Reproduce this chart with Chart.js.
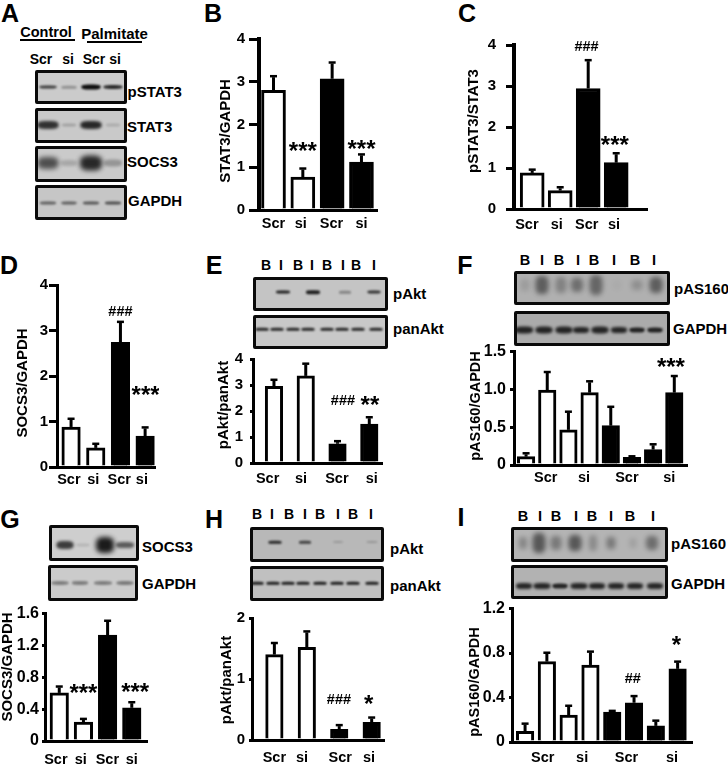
<!DOCTYPE html>
<html><head><meta charset="utf-8">
<script src="https://cdn.jsdelivr.net/npm/chart.js@4"></script>
<style>
html,body{margin:0;padding:0;background:#fff;width:728px;height:766px;overflow:hidden}
#fig{position:relative;width:728px;height:766px;font-family:"Liberation Sans",Arial,sans-serif;color:#000;font-weight:bold}
#fig canvas{position:absolute}
.t{position:absolute;white-space:nowrap;line-height:1;transform:translate(-50%,-50%)}
.l{transform:translate(0,-50%)}
.blot{position:absolute;box-sizing:border-box;border:3px solid #0a0a0a;border-radius:2px;overflow:hidden}
.band{position:absolute;border-radius:35%;background:#0c0c0c;transform:translate(-50%,-50%)}
.rule{position:absolute;height:2px;background:#000}
</style></head><body><div id="fig"></div>
<script>
// ---------- data ----------
const catsB=['Scr','si','Scr','si'];
const valsB=[2.8,0.77,3.07,1.12];
const errsB=[0.33,0.2,0.38,0.18];
const yTicks4=['0','1','2','3','4'];
const catsC=['Scr','si','Scr','si'];
const valsC=[0.88,0.45,2.94,1.13];
const errsC=[0.08,0.08,0.69,0.23];
const catsD=['Scr','si','Scr','si'];
const valsD=[0.88,0.42,2.74,0.68];
const errsD=[0.18,0.09,0.45,0.19];
const catsE=['Scr','si','Scr','si'];
const valsE=[2.95,3.35,0.74,1.5];
const errsE=[0.25,0.47,0.1,0.26];
const catsF=['Scr','si','Scr','si'];
const valsF=[0.11,0.99,0.465,0.957,0.52,0.1,0.204,0.957];
const errsF=[0.045,0.24,0.24,0.15,0.25,0.015,0.07,0.22];
const yTicksF=['0','0.5','1.0','1.5'];
const catsG=['Scr','si','Scr','si'];
const valsG=[0.604,0.2375,1.33,0.417];
const errsG=[0.08,0.04,0.18,0.07];
const yTicksG=['0','0.4','0.8','1.2','1.6'];
const catsH=['Scr','si','Scr','si'];
const valsH=[1.4,1.52,0.174,0.288];
const errsH=[0.19,0.26,0.07,0.08];
const yTicksH=['0','1','2'];
const catsI=['Scr','si','Scr','si'];
const valsI=[0.095,0.723,0.243,0.693,0.27,0.353,0.145,0.658];
const errsI=[0.07,0.08,0.083,0.12,0.01,0.06,0.047,0.065];
const yTicksI=['0','0.4','0.8','1.2'];
// ---------- layout ----------
const fig=document.getElementById('fig');
function text(s,x,y,size,left){const d=document.createElement('div');d.className='t'+(left?' l':'');d.textContent=s;
  d.style.left=x+'px';d.style.top=y+'px';d.style.fontSize=size+'px';fig.appendChild(d);}
function rule(x1,x2,y){const d=document.createElement('div');d.className='rule';d.style.left=x1+'px';d.style.width=(x2-x1)+'px';d.style.top=y+'px';fig.appendChild(d);}
function blot(x1,y1,x2,y2,bg,bands){const d=document.createElement('div');d.className='blot';
  d.style.cssText+=`left:${x1}px;top:${y1}px;width:${x2-x1}px;height:${y2-y1}px;background:${bg}`;
  bands.forEach(([cx,cy,w,h,a])=>{const b=document.createElement('div');b.className='band';
    const blur=h>9?2.4:h>5?1.6:0.9;
    b.style.cssText+=`left:${cx-x1-3}px;top:${cy-y1-3}px;width:${w}px;height:${h}px;opacity:${a};filter:blur(${blur}px)`;d.appendChild(b);});
  fig.appendChild(d);}
const pick=(v,i)=>Array.isArray(v)?v[i]:v;
function row(xs,y,w,h,al){return xs.map((x,i)=>[x,y,pick(w,i),pick(h,i),pick(al,i)]);}

[['A',10,13],['B',213,13],['C',467,13],['D',9,265],['E',214,265],['F',465,265],['G',10,519],['H',214,519],['I',461,517]]
  .forEach(([s,x,y])=>text(s,x,y,25));

// panel A
text('Control',46,32,14.5);rule(20,75,39);
text('Palmitate',114.5,33,15);rule(87,142,41);
[['Scr',41],['si',68],['Scr',94],['si',115]].forEach(([s,x])=>text(s,x,59,14));
const ax=[48,69,91,113];
blot(35,70,127,104,'#cbcbcb',row(ax,87,[17,15,19,19],[3,2.5,5,4],[.75,.3,1,.85]));
blot(35,108,127,143,'#c9c9c9',row(ax,125,[21,14,21,14],[8,3,8,3],[.8,.2,.85,.15]));
blot(35,146,127,182,'#cacaca',row(ax,163,[21,16,22,18],[12,6,15,7],[.65,.18,.85,.28]));
blot(35,185,127,220,'#c6c6c6',row(ax,203,[16,15,16,16],3,[.55,.55,.6,.65]));
text('pSTAT3',127.5,90.5,15,1);text('STAT3',127,125.5,15,1);text('SOCS3',127,161,15,1);text('GAPDH',128,200,15,1);

// panel E blots
[['B',266],['I',281],['B',298],['I',312],['B',327],['I',343],['B',356],['I',374]].forEach(([s,x])=>text(s,x,265,14));
blot(253,277,388,311,'#c4c4c4',row([283,313,345,374],292,[14,14,12,13],[3,3.5,2.5,3],[.9,.9,.35,.8]));
blot(253,315,388,349,'#c8c8c8',row([262,277,293,308,327,342,358,376],329,13,2.5,.85));
text('pAkt',393,293,15,1);text('panAkt',393,328,15,1);
// panel F blots
[['B',525],['I',542],['B',559],['I',578],['B',594],['I',614],['B',635],['I',654]].forEach(([s,x])=>text(s,x,260,14.5));
blot(514,271,670,305,'#b0b0b0',row([525,542,561,577,596,617,637,656],285,[9,13,11,12,13,9,11,13],[12,18,16,14,20,10,10,16],[.12,.5,.28,.4,.45,.03,.2,.5]));
blot(514,311,670,346,'#ababab',row([524,544,564,581,600,619,637,655],330,[18,17,17,16,17,16,15,15],[7,7,7,6,7,6,5,5],.85));
text('pAS160',674,288,15,1);text('GAPDH',673,328,15,1);
// panel G blots
blot(49,525,139,561,'#cecece',row([65,83,105,125],545,[17,13,18,18],[8,3,16,6],[.75,.12,.92,.6]));
blot(48,565,138,601,'#cbcbcb',row([60,80,103,125],583,[17,16,18,17],4,[.4,.4,.4,.42]));
text('SOCS3',142,546,15,1);text('GAPDH',142,583,15,1);
// panel H blots
[['B',257],['I',272],['B',289],['I',305],['B',320],['I',338],['B',353],['I',371]].forEach(([s,x])=>text(s,x,514,14));
blot(250,527,384,562,'#b8b8b8',row([275,305,338,372],542,[13,12,10,11],[2.5,2.5,2,2],[.85,.7,.18,.2]));
blot(250,566,384,601,'#c0c0c0',row([257,273,288,303,320,337,353,372],583,13,2.5,.9));
text('pAkt',390,548,15,1);text('panAkt',390,585,15,1);
// panel I blots
[['B',523],['I',540],['B',556],['I',576],['B',592],['I',611],['B',630],['I',653]].forEach(([s,x])=>text(s,x,516,14.5));
blot(511,527,668,562,'#b4b4b4',row([523,539,556,575,593,611,633,652],543,[8,13,11,13,8,9,7,12],[12,20,14,16,16,12,10,14],[.28,.55,.35,.55,.25,.35,.12,.42]));
blot(511,565,668,599,'#b2b2b2',row([524,542,560,579,597,616,635,655],586,[16,17,15,17,16,16,16,16],[6,6,5,6,6,6,6,6],.85));
text('pAS160',671,543,15,1);text('GAPDH',671,583,15,1);

// ---------- bars ----------
const errorAndMarks={id:'errorAndMarks',afterDatasetsDraw(c,a,o){
  const {ctx,scales:{x,y}}=c;ctx.save();ctx.strokeStyle='#000';
  o.vals.forEach((v,i)=>{const px=x.getPixelForValue(i),y1=y.getPixelForValue(v),y2=y.getPixelForValue(v+o.errs[i]);
    ctx.lineWidth=3;ctx.beginPath();ctx.moveTo(px,y1);ctx.lineTo(px,y2+1);ctx.stroke();
    ctx.lineWidth=2.5;ctx.beginPath();ctx.moveTo(px-3.5,y2);ctx.lineTo(px+3.5,y2);ctx.stroke();});
  ctx.fillStyle='#000';
  (o.marks||[]).forEach(([s,i,v])=>{const sz=s[0]==='*'?24:14.5;ctx.font=`bold ${sz}px "Liberation Sans",Arial,sans-serif`;
    const m=ctx.measureText(s);ctx.textAlign='center';ctx.textBaseline='alphabetic';
    ctx.fillText(s,x.getPixelForValue(i),y.getPixelForValue(v)+(m.actualBoundingBoxAscent-m.actualBoundingBoxDescent)/2);});
  ctx.restore();}};

function panel(p){
  const leftW=Math.min(62,p.axisX), topPad=12, bottomH=30, rightPad=4;
  const cx=p.axisX-leftW, cy=p.yTop-topPad, w=p.axisRight-p.axisX+leftW+rightPad, h=p.y0-p.yTop+topPad+bottomH;
  const cv=document.createElement('canvas');cv.style.left=cx+'px';cv.style.top=cy+'px';cv.width=w;cv.height=h;fig.appendChild(cv);
  const half=p.vals.length/2;
  new Chart(cv,{type:'bar',
    data:{labels:p.vals.map((_,i)=>String(i)),datasets:[{data:p.vals.map((v,i)=>({x:i,y:v})),
      backgroundColor:p.vals.map((_,i)=>i<half?'#fff':'#000'),borderColor:'#000',borderWidth:3,borderSkipped:'bottom',barThickness:p.barW}]},
    plugins:[errorAndMarks],
    options:{responsive:false,animation:false,events:[],layout:{padding:{left:0,right:rightPad,top:topPad,bottom:0}},
      plugins:{legend:{display:false},tooltip:{enabled:false},errorAndMarks:{vals:p.vals,errs:p.errs,marks:p.marks}},
      scales:{
        x:{type:'linear',offset:false,min:p.xMin,max:p.xMax,grid:{display:false,drawTicks:false,offset:false},border:{display:true,color:'#000',width:3},
          afterBuildTicks:s=>{s.ticks=p.tickAt.map(v=>({value:v}));},
          ticks:{autoSkip:false,maxRotation:0,minRotation:0,padding:p.xLabelY-p.y0-8,color:'#000',font:{size:14.5,weight:'bold',family:'"Liberation Sans",Arial,sans-serif'},callback:(v,i)=>p.cats[i]},
          afterFit:s=>{s.height=bottomH;}},
        y:{min:0,max:Number(p.yLabels[p.yLabels.length-1]),grid:{drawOnChartArea:false,drawTicks:true,tickLength:p.tickLen,tickColor:'#000',tickWidth:3,lineWidth:3,color:'#000'},
          border:{display:true,color:'#000',width:p.axisW||3},
          afterBuildTicks:s=>{s.ticks=p.yLabels.map(v=>({value:Number(v)}));},
          ticks:{autoSkip:false,padding:p.axisX-p.tickLen-p.yLabelRight,color:'#000',font:{size:p.yFont,weight:'bold',family:'"Liberation Sans",Arial,sans-serif'},callback:(v,i)=>p.yLabels[i]},
          title:{display:true,text:p.title,color:'#000',padding:0,font:{size:p.titleFont||15,weight:'bold',family:'"Liberation Sans",Arial,sans-serif'}},
          afterFit:s=>{s.width=leftW;},
          afterUpdate:s=>{if(s._shifted)return;s._shifted=true;const d=s.drawTitle.bind(s);
            s.drawTitle=function(){const c=s.ctx;c.save();
              const lh=(p.titleFont||15)*1.2;
              c.translate(p.titleX-cx-(s.left+lh/2),p.titleY-cy-(s.top+s.bottom)/2);d();c.restore();};}}
      }}});
}
panel({cats:catsB,vals:valsB,errs:errsB,yLabels:yTicks4,title:'STAT3/GAPDH',axisX:259,axisW:4,axisRight:377,y0:210,yTop:38,xMin:-0.495,xMax:3.53,tickAt:[0,0.93,1.98,3],xLabelY:223,barW:24,tickLen:10,yFont:15,yLabelRight:245,titleX:226,titleY:131,marks:[['***',1,1.49],['***',3,1.53]]});
panel({cats:catsC,vals:valsC,errs:errsC,yLabels:yTicks4,title:'pSTAT3/STAT3',axisX:514,axisW:4,axisRight:647,y0:209,yTop:38,xMin:-0.65,xMax:4.1,tickAt:[-0.19,0.88,1.95,2.92],xLabelY:224,barW:24,tickLen:8,yFont:15,yLabelRight:496,titleX:474,titleY:121,marks:[['###',1.94,3.97],['***',2.95,1.66]]});
panel({cats:catsD,vals:valsD,errs:errsD,yLabels:yTicks4,title:'SOCS3/GAPDH',axisX:57,axisRight:155,y0:467,yTop:285,xMin:-0.57,xMax:3.4,tickAt:[-0.09,0.9,1.95,2.87],xLabelY:479,barW:18.5,tickLen:8,yFont:15,yLabelRight:48,titleX:23,titleY:383,marks:[['###',2,3.43],['***',3.02,1.69]]});
panel({cats:catsE,vals:valsE,errs:errsE,yLabels:yTicks4,title:'pAkt/panAkt',axisX:253,axisRight:382,y0:463,yTop:355,xMin:-0.66,xMax:3.4,tickAt:[-0.2,0.85,1.98,3.08],xLabelY:478,barW:17.5,tickLen:3,yFont:15,yLabelRight:243,titleX:224,titleY:405,marks:[['###',2.17,2.42],['**',3.02,2.42]]});
panel({cats:catsF,vals:valsF,errs:errsF,yLabels:yTicksF,title:'pAS160/GAPDH',titleFont:14.5,axisX:514,axisRight:687,y0:465,yTop:350,xMin:-0.57,xMax:7.6,tickAt:[0.93,2.74,4.76,6.76],xLabelY:477,barW:17.5,tickLen:4,yFont:16,yLabelRight:506,titleX:476,titleY:406,marks:[['***',6.84,1.35]]});
panel({cats:catsG,vals:valsG,errs:errsG,yLabels:yTicksG,title:'SOCS3/GAPDH',axisX:45,axisRight:147,y0:741,yTop:613,xMin:-0.59,xMax:3.63,tickAt:[-0.14,0.89,1.99,3],xLabelY:759,barW:18.5,tickLen:3,yFont:16,yLabelRight:39,titleX:8,titleY:667,marks:[['***',1,0.66],['***',3.14,0.675]]});
panel({cats:catsH,vals:valsH,errs:errsH,yLabels:yTicksH,title:'pAkt/panAkt',axisX:252,axisRight:384,y0:740,yTop:617,xMin:-0.69,xMax:3.38,tickAt:[0,0.85,2.03,2.92],xLabelY:757,barW:17.5,tickLen:3,yFont:15,yLabelRight:245,titleX:227,titleY:680,marks:[['###',1.99,0.67],['*',2.91,0.67]]});
panel({cats:catsI,vals:valsI,errs:errsI,yLabels:yTicksI,title:'pAS160/GAPDH',titleFont:14.5,axisX:512,axisRight:692,y0:742,yTop:607,xMin:-0.6,xMax:7.66,tickAt:[0.81,2.62,4.65,6.74],xLabelY:757,barW:17.5,tickLen:3,yFont:16,yLabelRight:505,titleX:475,titleY:682,marks:[['##',4.94,0.575],['*',6.94,0.915]]});
</script></body></html>
